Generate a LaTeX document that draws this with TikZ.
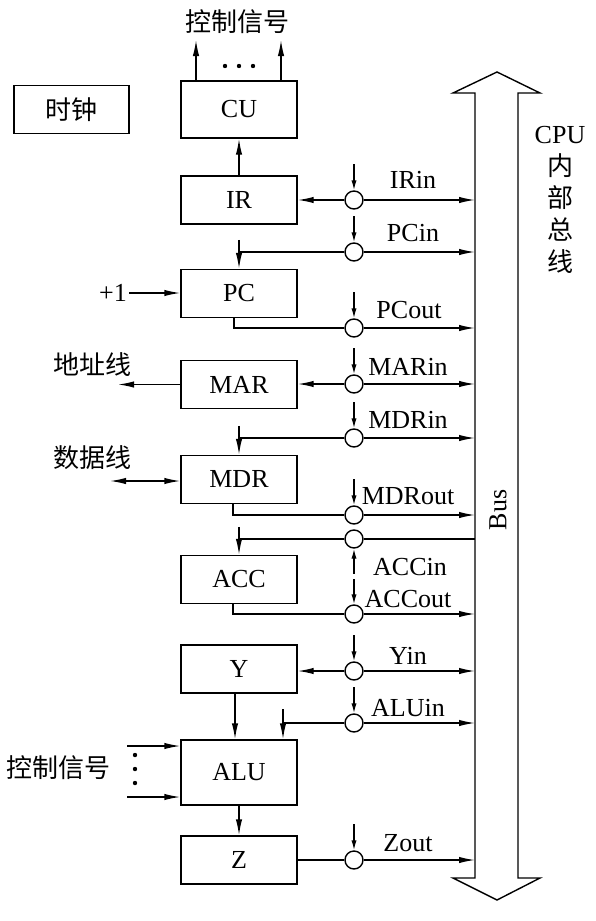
\documentclass[tikz,border=0pt]{standalone}
\usepackage{fontspec}
\setmainfont{Liberation Serif}
\newfontfamily\cjk{Noto Sans CJK SC}
\usetikzlibrary{positioning, calc, arrows.meta}

\newcommand\labsize{\fontsize{13}{16}\selectfont}

\tikzset{
  reg/.style={draw, line width=0.7pt, minimum width=58pt, minimum height=24pt, inner sep=0pt, font=\labsize},
  gate/.style={draw, circle, line width=0.7pt, minimum size=9pt, inner sep=0pt, fill=white},
  sig/.style={font=\labsize, inner sep=1pt},
  post/.style={line width=0.7pt, -{Latex[length=8pt,width=3.2pt]}},
  both/.style={line width=0.7pt, {Latex[length=8pt,width=3.2pt]}-{Latex[length=8pt,width=3.2pt]}},
  ctl/.style={line width=0.7pt, -{Latex[length=5pt,width=2.6pt]}},
  wire/.style={line width=0.7pt}
}

\begin{document}
\begin{tikzpicture}[x=0.5pt,y=-0.5pt]
      \useasboundingbox (0,0) rectangle (595,921);

      % REGISTERS

      \node[reg, font=\cjk\labsize, minimum width=57.5pt] (clk) at (71.5,109.5) {时钟};
      \node[reg, minimum height=28.5pt] (cu) at (239,109.5) {CU};
      \node[reg] (ir) at (239,200) {IR};
      \node[reg] (pc) at (239,293.5) {PC};
      \node[reg] (mar) at (239,384.5) {MAR};
      \node[reg] (mdr) at (239,479.5) {MDR};
      \node[reg] (acc) at (239,579.5) {ACC};
      \node[reg] (y) at (239,669) {Y};
      \node[reg, minimum height=32.5pt] (alu) at (239,772.5) {ALU};
      \node[reg] (z) at (239,860) {Z};

      % GATES

      \node[gate] (irin) at (354,200) {};
      \node[gate] (pcin) at (354,252) {};
      \node[gate] (pcout) at (354,328) {};
      \node[gate] (marin) at (354,384) {};
      \node[gate] (mdrin) at (354,438) {};
      \node[gate] (mdrout) at (354,515) {};
      \node[gate] (accin) at (354,539) {};
      \node[gate] (accout) at (354,614) {};
      \node[gate] (yin) at (354,671) {};
      \node[gate] (aluin) at (354,723) {};
      \node[gate] (zout) at (354,860) {};

      % BUS

      \coordinate (bus) at (475,0);
      \draw[wire] (475,878) -- (475,93) -- (453,93) -- (497,72) -- (540,93) -- (518,93)
        -- (518,878) -- (540,878) -- (497,900) -- (453,878) -- cycle;
      \node[sig, rotate=90] (buslabel) at (498,510) {Bus};
      \node[sig, align=center, font=\fontsize{13}{16}\selectfont] (bustitle) at (560,200)
        {CPU\\{\cjk 内}\\{\cjk 部}\\{\cjk 总}\\{\cjk 线}};

      % LABELS

      \node[sig, font=\cjk\labsize] (cstop) at (237,22) {控制信号};
      \node[sig, font=\cjk\labsize] (addrlabel) at (93,365) {地址线};
      \node[sig, font=\cjk\labsize] (datalabel) at (93,458) {数据线};
      \node[sig, font=\cjk\labsize] (csleft) at (58,768) {控制信号};
      \node[sig] (inc) at (113,293) {+1};

      \node[sig] (irinLabel) at ($(irin)+(59,-20)$) {IRin};
      \node[sig] (pcinLabel) at ($(pcin)+(59,-19)$) {PCin};
      \node[sig] (pcoutLabel) at ($(pcout)+(55,-18)$) {PCout};
      \node[sig] (marinLabel) at ($(marin)+(54,-17)$) {MARin};
      \node[sig] (mdrinLabel) at ($(mdrin)+(54,-18)$) {MDRin};
      \node[sig] (mdroutLabel) at ($(mdrout)+(54,-19)$) {MDRout};
      \node[sig] (accinLabel) at ($(accin)+(56,28)$) {ACCin};
      \node[sig] (accoutLabel) at ($(accout)+(54,-15)$) {ACCout};
      \node[sig] (yinLabel) at ($(yin)+(54,-15)$) {Yin};
      \node[sig] (aluinLabel) at ($(aluin)+(54,-15)$) {ALUin};
      \node[sig] (zoutLabel) at ($(zout)+(54,-17)$) {Zout};

      % DOTS

      \fill (225,66) circle (1.1pt);
      \fill (239,66) circle (1.1pt);
      \fill (253,66) circle (1.1pt);
      \fill (135,755) circle (1.1pt);
      \fill (135,769) circle (1.1pt);
      \fill (135,783) circle (1.1pt);

      % ARCS

      \coordinate (cs1) at (196,40);
      \coordinate (cs2) at (281,40);
      \draw[post] (cs1 |- cu.north) -- (cs1);
      \draw[post] (cs2 |- cu.north) -- (cs2);
      \draw[post] (ir.north) -- (cu.south);

      \draw[post] (irin) -- (ir.east);
      \draw[post] (irin) -- (irin -| bus);

      \draw[wire] (pcin) -- (pcin -| pc);
      \draw[post] ($(pc.north)+(0,-29)$) -- (pc.north);
      \draw[post] (pcin) -- (pcin -| bus);
      \draw[post] (inc) -- (inc -| pc.west);

      \draw[wire] ($(pc.south)+(-5,0)$) |- (pcout);
      \draw[post] (pcout) -- (pcout -| bus);

      \coordinate (addr) at (118,384.5);
      \draw[post] (marin) -- (marin -| mar.east);
      \draw[post] (marin) -- (marin -| bus);
      \draw[post] (mar.west) -- (addr);

      \coordinate (data) at (110,481);
      \draw[wire] (mdrin) -- (mdrin -| mdr);
      \draw[post] ($(mdr.north)+(0,-29)$) -- (mdr.north);
      \draw[post] (mdrin) -- (mdrin -| bus);
      \draw[both] (data) -- (data -| mdr.west);

      \draw[wire] ($(mdr.south)+(-6,0)$) |- (mdrout);
      \draw[post] (mdrout) -- (mdrout -| bus);

      \draw[wire] (accin) -- (accin -| acc);
      \draw[post] ($(acc.north)+(0,-28)$) -- (acc.north);
      \draw[wire] (accin) -- (accin -| bus);

      \draw[wire] ($(acc.south)+(-6,0)$) |- (accout);
      \draw[post] (accout) -- (accout -| bus);

      \draw[post] (yin) -- (yin -| y.east);
      \draw[post] (yin) -- (yin -| bus);
      \draw[post] ($(y.south)+(-4,0)$) -- ($(alu.north)+(-4,0)$);

      \coordinate (aluport) at ($(alu.north)+(44,0)$);
      \draw[wire] (aluin) -- (aluin -| aluport);
      \draw[post] ($(aluport)+(0,-30)$) -- (aluport);
      \draw[post] (aluin) -- (aluin -| bus);

      \coordinate (cl1) at (127,746);
      \coordinate (cl2) at (127,797);
      \draw[post] (cl1) -- (cl1 -| alu.west);
      \draw[post] (cl2) -- (cl2 -| alu.west);
      \draw[post] (alu.south) -- (z.north);

      \draw[wire] (z.east) -- (zout);
      \draw[post] (zout) -- (zout -| bus);

      % CONTROL SIGNALS

      \draw[ctl] ($(irin.north)+(0,-26)$) -- (irin.north);
      \draw[ctl] ($(pcin.north)+(0,-26)$) -- (pcin.north);
      \draw[ctl] ($(pcout.north)+(0,-26)$) -- (pcout.north);
      \draw[ctl] ($(marin.north)+(0,-26)$) -- (marin.north);
      \draw[ctl] ($(mdrin.north)+(0,-26)$) -- (mdrin.north);
      \draw[ctl] ($(mdrout.north)+(0,-26)$) -- (mdrout.north);
      \draw[ctl] ($(accin.south)+(0,25)$) -- (accin.south);
      \draw[ctl] ($(accout.north)+(0,-25)$) -- (accout.north);
      \draw[ctl] ($(yin.north)+(0,-26)$) -- (yin.north);
      \draw[ctl] ($(aluin.north)+(0,-26)$) -- (aluin.north);
      \draw[ctl] ($(zout.north)+(0,-26)$) -- (zout.north);

    \end{tikzpicture}
\end{document}
